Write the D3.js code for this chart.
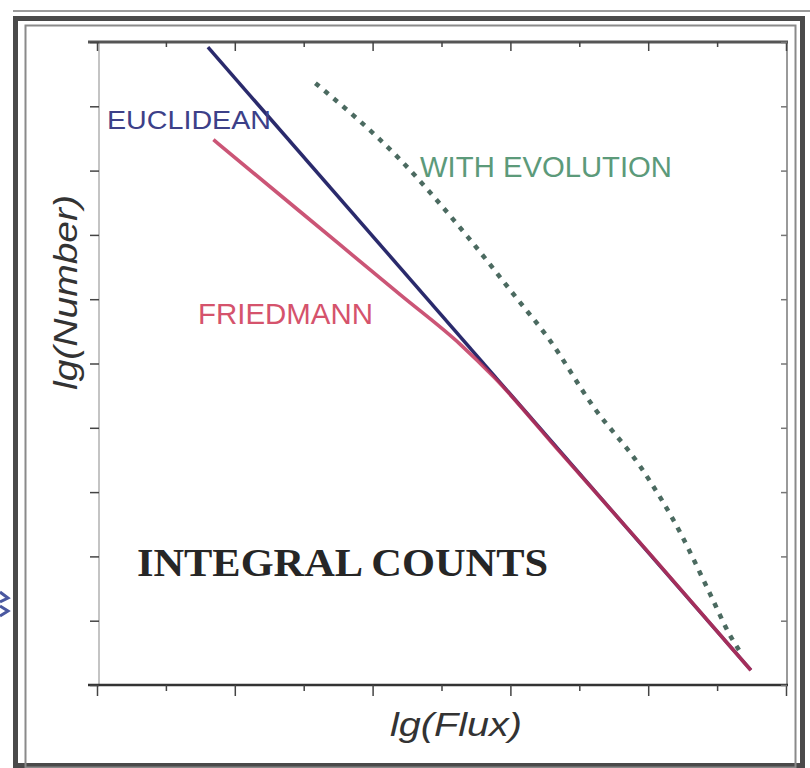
<!DOCTYPE html>
<html>
<head>
<meta charset="utf-8">
<script src="https://cdn.jsdelivr.net/npm/d3@7"></script>
<style>
  body { margin: 0; background: #fff; }
  svg { display: block; }
</style>
</head>
<body>
<script>
// Tick positions along both axes (lg units, no labels in the original)
var xTicks = d3.range(0, 11);
var yTicks = d3.range(0, 11);

// Euclidean counts: a straight line
var euclidX = [1.61, 9.49];
var euclidY = [9.92, 0.23];

// Friedmann counts: flatter at faint fluxes, joins Euclidean at bright end
var friedX = [1.69, 2.95, 4.40, 5.28, 5.76, 6.73, 8.04, 9.49];
var friedY = [8.48, 7.36, 6.07, 5.29, 4.79, 3.61, 2.02, 0.23];

// With evolution (dotted)
var evolX = [3.17, 4.40, 5.38, 6.11, 6.54, 7.21, 7.89, 8.47, 8.87, 9.20, 9.32];
var evolY = [9.36, 8.17, 6.97, 5.99, 5.41, 4.32, 3.39, 2.36, 1.48, 0.75, 0.54];

var W = 810, H = 768;

var svg = d3.select("body").append("svg")
    .attr("width", W)
    .attr("height", H);

// Scales
var x = d3.scaleLinear().domain([0, 10]).range([97, 786]);
var y = d3.scaleLinear().domain([0, 10]).range([685, 42]);

// Frame around the figure
svg.append("line")
    .attr("x1", 13).attr("x2", W).attr("y1", 11).attr("y2", 11)
    .attr("stroke", "#9a9a9a").attr("stroke-width", 2);
svg.append("rect")
    .attr("x", 15.5).attr("y", 18.5).attr("width", 787).attr("height", 747)
    .attr("fill", "none").attr("stroke", "#4a4a4a").attr("stroke-width", 5);
svg.append("rect")
    .attr("x", 25.5).attr("y", 25.5).attr("width", 770).attr("height", 742)
    .attr("fill", "none").attr("stroke", "#8a8a8a").attr("stroke-width", 2);

// Axes
var axes = svg.append("g").attr("class", "axes");

// left and right axis lines are light, top and bottom darker
axes.append("line")
    .attr("x1", x(0) + 2).attr("x2", x(0) + 2).attr("y1", y(10)).attr("y2", y(0))
    .attr("stroke", "#b0b0b0").attr("stroke-width", 1.5);
axes.append("line")
    .attr("x1", x(10) + 1).attr("x2", x(10) + 1).attr("y1", y(10)).attr("y2", y(0))
    .attr("stroke", "#9a9a9a").attr("stroke-width", 2);
axes.append("line")
    .attr("x1", x(0) - 9).attr("x2", x(10) + 2).attr("y1", y(0)).attr("y2", y(0))
    .attr("stroke", "#333").attr("stroke-width", 2.5);
axes.append("line")
    .attr("x1", x(0) - 9).attr("x2", x(10) + 2).attr("y1", y(10)).attr("y2", y(10))
    .attr("stroke", "#555").attr("stroke-width", 3);

function styleAxis(g) {
    g.select(".domain").remove();
    g.selectAll(".tick line").attr("stroke", "#444").attr("stroke-width", 1.5);
}

axes.append("g")
    .attr("transform", `translate(0,${y(0)})`)
    .call(d3.axisBottom(x).tickValues(xTicks).tickFormat("").tickSize(6).tickSizeOuter(0))
    .call(styleAxis)
    .selectAll(".tick line")
    .attr("y2", d => d % 2 === 0 ? 11 : 6);

axes.append("g")
    .attr("transform", `translate(0,${y(10)})`)
    .call(d3.axisTop(x).tickValues(xTicks).tickFormat("").tickSize(-6).tickSizeOuter(0))
    .call(styleAxis)
    .selectAll(".tick line")
    .attr("y2", d => d % 2 === 0 ? 9 : 5);

axes.append("g")
    .attr("transform", `translate(${x(0) + 2},0)`)
    .call(d3.axisLeft(y).tickValues(yTicks).tickFormat("").tickSize(9).tickSizeOuter(0))
    .call(styleAxis);

axes.append("g")
    .attr("transform", `translate(${x(10) + 1},0)`)
    .call(d3.axisRight(y).tickValues(yTicks).tickFormat("").tickSize(-6).tickSizeOuter(0))
    .call(styleAxis)
    .selectAll(".tick line").attr("stroke", "#777");

// Curves
var line = d3.line()
    .x(d => x(d[0]))
    .y(d => y(d[1]))
    .curve(d3.curveMonotoneX);

var plot = svg.append("g").attr("class", "curves");

plot.append("path")
    .datum(d3.zip(evolX, evolY))
    .attr("d", line)
    .attr("fill", "none")
    .attr("stroke", "#4b6a60")
    .attr("stroke-width", 4.5)
    .attr("stroke-dasharray", "5,7");

plot.append("path")
    .datum(d3.zip(euclidX, euclidY))
    .attr("d", line)
    .attr("fill", "none")
    .attr("stroke", "#2a2a6c")
    .attr("stroke-width", 3.5);

// Friedmann drawn semi-transparent so the overlap with Euclidean reads dark maroon
plot.append("path")
    .datum(d3.zip(friedX, friedY))
    .attr("d", line)
    .attr("fill", "none")
    .attr("stroke", "#c03058")
    .attr("stroke-opacity", 0.82)
    .attr("stroke-width", 3.6);

// Labels
var sans = "Liberation Sans, Arial, sans-serif";

svg.append("text")
    .attr("x", 107).attr("y", 129)
    .attr("font-family", sans).attr("font-size", 26)
    .attr("textLength", 164).attr("lengthAdjust", "spacingAndGlyphs")
    .attr("fill", "#3c4088")
    .text("EUCLIDEAN");

svg.append("text")
    .attr("x", 420).attr("y", 177)
    .attr("font-family", sans).attr("font-size", 29)
    .attr("textLength", 252).attr("lengthAdjust", "spacingAndGlyphs")
    .attr("fill", "#5c9a7a")
    .text("WITH EVOLUTION");

svg.append("text")
    .attr("x", 198).attr("y", 324)
    .attr("font-family", sans).attr("font-size", 29)
    .attr("textLength", 175).attr("lengthAdjust", "spacingAndGlyphs")
    .attr("fill", "#d5536c")
    .text("FRIEDMANN");

svg.append("text")
    .attr("x", 137).attr("y", 576)
    .attr("font-family", "Liberation Serif, Times New Roman, serif")
    .attr("font-weight", "bold").attr("font-size", 41)
    .attr("textLength", 411).attr("lengthAdjust", "spacingAndGlyphs")
    .attr("fill", "#262626")
    .text("INTEGRAL COUNTS");

svg.append("text")
    .attr("x", 390).attr("y", 736)
    .attr("font-family", sans).attr("font-style", "italic").attr("font-size", 34)
    .attr("textLength", 132).attr("lengthAdjust", "spacingAndGlyphs")
    .attr("fill", "#333")
    .text("lg(Flux)");

svg.append("text")
    .attr("transform", "translate(77,390) rotate(-90)")
    .attr("font-family", sans).attr("font-style", "italic").attr("font-size", 34)
    .attr("textLength", 195).attr("lengthAdjust", "spacingAndGlyphs")
    .attr("fill", "#333")
    .text("lg(Number)");

// small clipped mark at the left edge of the scan
svg.append("path")
    .attr("d", "M0,592 L8,598 L0,602 M0,606 L8,611 L0,616")
    .attr("fill", "none")
    .attr("stroke", "#4a58a0")
    .attr("stroke-width", 3);
</script>
</body>
</html>
